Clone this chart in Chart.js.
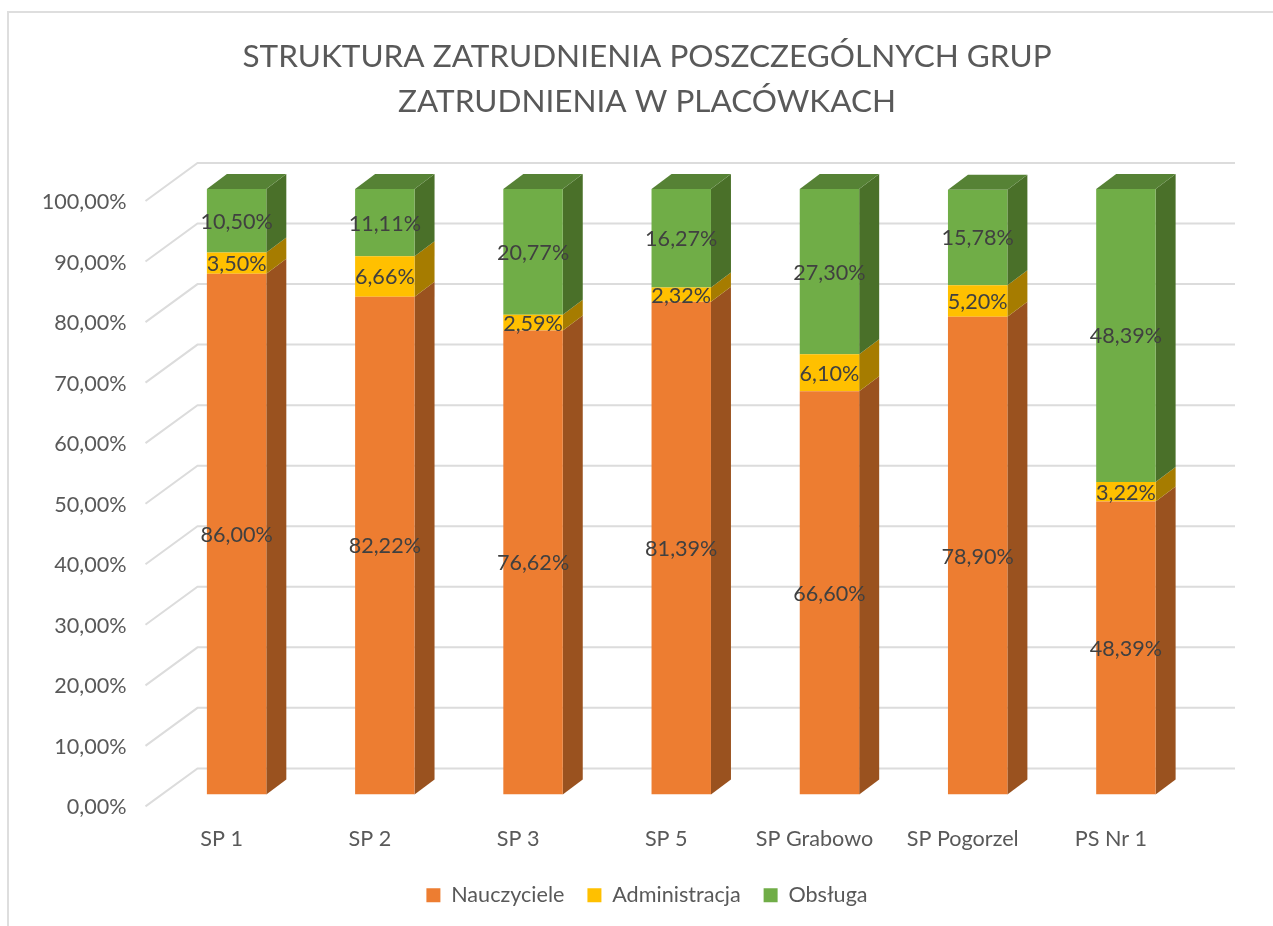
<!DOCTYPE html>
<html lang="pl">
<head>
<meta charset="utf-8">
<title>Struktura zatrudnienia</title>
<script src="https://cdn.jsdelivr.net/npm/chart.js@4"></script>
<style>
    html, body { margin: 0; padding: 0; background: #fff; overflow: hidden; width: 1273px; height: 926px; }
    #ramka { position: absolute; left: 7px; top: 11px; width: 1266px; height: 915px; box-sizing: border-box; border-left: 2px solid #dedede; border-top: 2px solid #dedede; }
    #grafico { position: absolute; left: 0; top: 0; }
</style>
</head>
<body>
<div id="ramka"></div>
<canvas id="grafico" width="1273" height="926"></canvas>
<script>
const placowki = ['SP 1', 'SP 2', 'SP 3', 'SP 5', 'SP Grabowo', 'SP Pogorzel', 'PS Nr 1'];
const nauczyciele = [86.00, 82.22, 76.62, 81.39, 66.60, 78.90, 48.39];
const administracja = [3.50, 6.66, 2.59, 2.32, 6.10, 5.20, 3.22];
const obsluga = [10.50, 11.11, 20.77, 16.27, 27.30, 15.78, 48.39];

const tytul = ['STRUKTURA ZATRUDNIENIA POSZCZEGÓLNYCH GRUP', 'ZATRUDNIENIA W PLACÓWKACH'];
const FONT = 'Lato, Carlito, "Open Sans", sans-serif';
const ROZMIAR = 21.6;

// glebokosc 3D slupka
const DX = 20;
const DY = -15;

function formatarProcent(v) {
    return v.toFixed(2).replace('.', ',') + '%';
}

function wielokat(ctx, punkty, kolor) {
    ctx.fillStyle = kolor;
    ctx.beginPath();
    punkty.forEach((p, i) => i ? ctx.lineTo(p[0], p[1]) : ctx.moveTo(p[0], p[1]));
    ctx.closePath();
    ctx.fill();
}

// siatka na tylnej scianie i ukosy po lewej
const siatka3d = {
    id: 'siatka3d',
    beforeDatasetsDraw(chart) {
        const { ctx, scales: { y }, chartArea } = chart;
        ctx.save();
        ctx.strokeStyle = '#dcdcdc';
        ctx.lineWidth = 2;
        y.ticks.forEach(t => {
            const py = y.getPixelForValue(t.value);
            ctx.beginPath();
            ctx.moveTo(chartArea.left - 17, py + 12);
            ctx.lineTo(chartArea.left + 35, py - 26);
            ctx.lineTo(chartArea.right + 35, py - 26);
            ctx.stroke();
        });
        ctx.restore();
    }
};

// boki i wierzch slupkow
const boki3d = {
    id: 'boki3d',
    beforeDatasetsDraw(chart) {
        const { ctx } = chart;
        const ostatni = chart.data.datasets.length - 1;
        ctx.save();
        chart.data.datasets.forEach((ds, i) => {
            chart.getDatasetMeta(i).data.forEach(bar => {
                const { x, y, base, width } = bar.getProps(['x', 'y', 'base', 'width'], false);
                const prawo = x + width / 2;
                const lewo = x - width / 2;
                wielokat(ctx, [[prawo, y], [prawo + DX, y + DY], [prawo + DX, base + DY], [prawo, base]], ds.kolorBoku);
                if (i === ostatni) {
                    wielokat(ctx, [[lewo, y], [lewo + DX, y + DY], [prawo + DX, y + DY], [prawo, y]], ds.kolorWierzchu);
                }
            });
        });
        ctx.restore();
    }
};

// etykiety wartosci
const etykiety = {
    id: 'etykiety',
    afterDatasetsDraw(chart) {
        const { ctx } = chart;
        ctx.save();
        ctx.font = ROZMIAR + 'px ' + FONT;
        ctx.fillStyle = '#404040';
        ctx.textAlign = 'center';
        ctx.textBaseline = 'middle';
        chart.data.datasets.forEach((ds, i) => {
            chart.getDatasetMeta(i).data.forEach((bar, j) => {
                const { x, y, base } = bar.getProps(['x', 'y', 'base'], false);
                ctx.fillText(formatarProcent(ds.data[j]), x, (y + base) / 2 + 1);
            });
        });
        ctx.restore();
    }
};

new Chart(document.getElementById('grafico'), {
    type: 'bar',
    data: {
        labels: placowki,
        datasets: [
            { label: 'Nauczyciele', data: nauczyciele, backgroundColor: '#ED7D31', kolorBoku: '#9A521F', kolorWierzchu: '#B05E26' },
            { label: 'Administracja', data: administracja, backgroundColor: '#FFC000', kolorBoku: '#A67C00', kolorWierzchu: '#BF9000' },
            { label: 'Obsługa', data: obsluga, backgroundColor: '#70AD47', kolorBoku: '#4A7029', kolorWierzchu: '#568235' }
        ]
    },
    plugins: [siatka3d, boki3d, etykiety],
    options: {
        responsive: false,
        animation: false,
        layout: { padding: { left: 21, right: 0, top: 0, bottom: 10 } },
        datasets: { bar: { barPercentage: 0.401, categoryPercentage: 1 } },
        plugins: {
            tooltip: { enabled: false },
            title: {
                display: true,
                text: tytul,
                color: '#595959',
                font: { family: FONT, size: 31.5, weight: 'normal', lineHeight: 1.4286 },
                padding: { top: 34, bottom: 65 }
            },
            legend: {
                position: 'bottom',
                labels: {
                    color: '#595959',
                    font: { family: FONT, size: ROZMIAR },
                    boxWidth: 14,
                    boxHeight: 14,
                    padding: 23
                }
            }
        },
        scales: {
            x: {
                stacked: true,
                afterFit(scale) { scale.height = 67; },
                grid: { display: false, drawTicks: false },
                border: { display: false },
                ticks: { color: '#595959', font: { family: FONT, size: ROZMIAR }, labelOffset: -15, padding: 32, maxRotation: 0, autoSkip: false }
            },
            y: {
                stacked: true,
                min: 0,
                max: 100,
                afterFit(scale) { scale.width = 141.5; },
                grid: { display: false, drawTicks: false },
                border: { display: false },
                ticks: {
                    stepSize: 10,
                    color: '#595959',
                    font: { family: FONT, size: ROZMIAR },
                    padding: 36,
                    labelOffset: 13,
                    callback: (value) => formatarProcent(value)
                }
            },
            // pusta os: trzyma margines po prawej, tytul i legenda zostaja na srodku
            margines: {
                position: 'right',
                afterFit(scale) { scale.width = 73; },
                grid: { display: false, drawTicks: false },
                border: { display: false },
                ticks: { display: false }
            }
        }
    }
});
</script>
</body>
</html>
